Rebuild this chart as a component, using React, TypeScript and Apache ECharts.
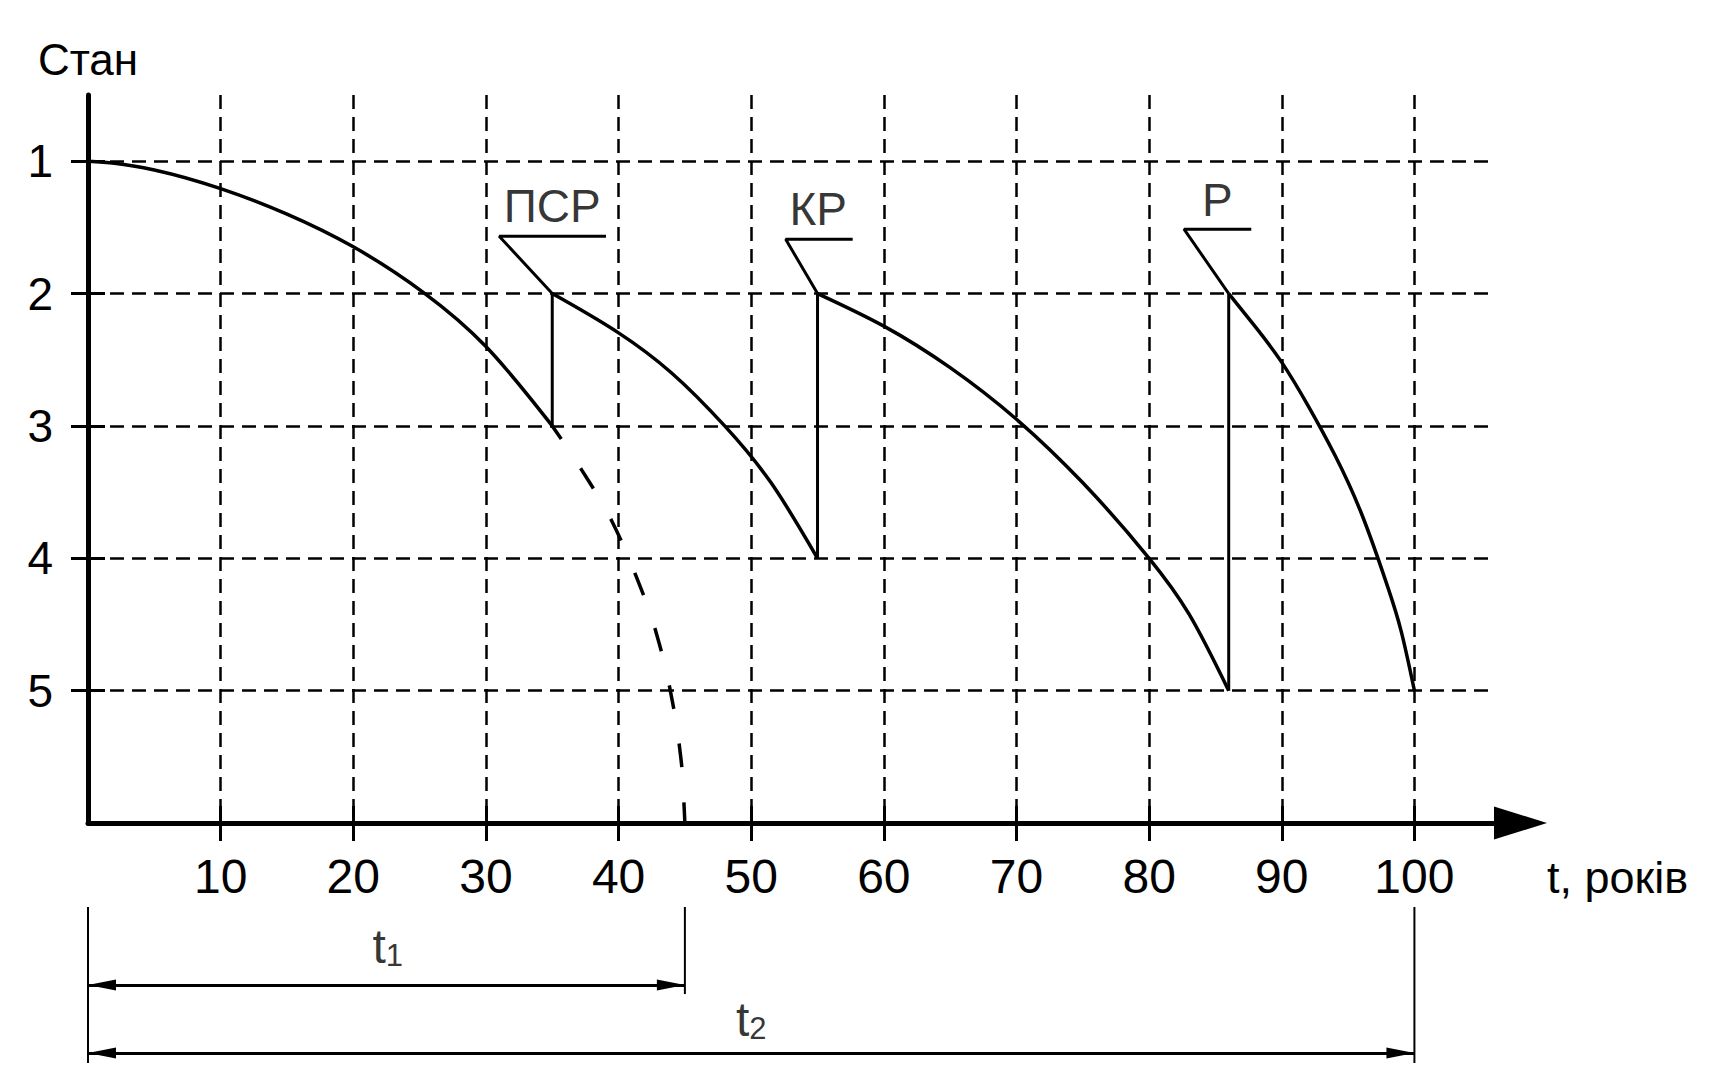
import React, { useEffect, useRef } from 'react';
import * as echarts from 'echarts';

// ---- data ----
const xTicks = [10, 20, 30, 40, 50, 60, 70, 80, 90, 100];
const yTicks = [1, 2, 3, 4, 5];

const curve1 = [[0, 1], [2, 1.015], [5, 1.066], [10, 1.207], [15, 1.4], [20, 1.647], [25.4, 2.0], [30, 2.4], [35, 3.0]];
const curve1Forecast = [[35, 3], [37.2, 3.33], [39.5, 3.72], [41.3, 4.13], [42.8, 4.55], [43.9, 5.0], [44.6, 5.43], [44.8, 5.62], [45, 6]];
const curve2 = [[35, 2], [40, 2.297], [44, 2.6], [48, 3.0], [51.5, 3.43], [55, 4.0]];
const curve3 = [[55, 2], [60, 2.246], [65, 2.56], [70, 2.95], [75, 3.43], [80, 4.0], [83, 4.42], [86, 5.0]];
const curve4 = [[86, 2], [88, 2.25], [90, 2.52], [92, 2.85], [94, 3.22], [96, 3.66], [98, 4.22], [99, 4.55], [100, 5]];

const repairJumps = [
  [[35, 3], [35, 2]],
  [[55, 4], [55, 2]],
  [[86, 5], [86, 2]],
];
const repairNames = ['ПСР', 'КР', 'Р'];
const leaderLines = [
  [[35, 2], [31, 1.567], [39.05, 1.567]],
  [[55, 2], [52.6, 1.59], [57.65, 1.59]],
  [[86, 2], [82.63, 1.514], [87.7, 1.514]],
];
const repairLabelPos = [[35, 1.34], [55.05, 1.36], [85.15, 1.29]];

// dimension lines (lower panel, y in 0..1)
const dimExtLines = [
  [[0, 0], [0, 1]],
  [[45, 0], [45, 0.558]],
  [[100, 0], [100, 1]],
];
const dimArrows = [
  [[0, 0.5], [45, 0.5]],
  [[0, 0.936], [100, 0.936]],
];
const dimSubscripts = ['1', '2'];
const dimLabelPos = [[22.6, 0.256], [50, 0.724]];

const narrow = '"Liberation Sans Narrow", "Arial Narrow", "Liberation Sans", Arial, sans-serif';
const regular = '"Liberation Sans", Arial, sans-serif';
const black = '#000';

function hermitePath(pts: number[][], t: number[]): string {
  let d = `M${pts[0][0]},${pts[0][1]}`;
  for (let i = 0; i < pts.length - 1; i++) {
    const dx = (pts[i + 1][0] - pts[i][0]) / 3;
    d += ` C${pts[i][0] + dx},${pts[i][1] + dx * t[i]} ${pts[i + 1][0] - dx},${pts[i + 1][1] - dx * t[i + 1]} ${pts[i + 1][0]},${pts[i + 1][1]}`;
  }
  return d;
}

// monotone cubic (in x) tangents
function monotoneTangents(pts: number[][]): number[] {
  const n = pts.length;
  const sgn = (v: number) => (v < 0 ? -1 : v > 0 ? 1 : 0);
  const h: number[] = [], s: number[] = [];
  for (let i = 0; i < n - 1; i++) {
    h.push(pts[i + 1][0] - pts[i][0]);
    s.push((pts[i + 1][1] - pts[i][1]) / h[i]);
  }
  const t: number[] = new Array(n).fill(0);
  for (let i = 1; i < n - 1; i++) {
    const s0 = s[i - 1], s1 = s[i];
    const p = (s0 * h[i] + s1 * h[i - 1]) / (h[i - 1] + h[i]);
    t[i] = (sgn(s0) + sgn(s1)) * Math.min(Math.abs(s0), Math.abs(s1), 0.5 * Math.abs(p)) || 0;
  }
  t[0] = n > 2 ? (3 * s[0] - t[1]) / 2 : s[0];
  t[n - 1] = n > 2 ? (3 * s[n - 2] - t[n - 2]) / 2 : s[n - 2];
  return t;
}

// natural cubic spline (in x) tangents
function splineTangents(pts: number[][]): number[] {
  const n = pts.length;
  const h: number[] = [], s: number[] = [];
  for (let i = 0; i < n - 1; i++) {
    h.push(pts[i + 1][0] - pts[i][0]);
    s.push((pts[i + 1][1] - pts[i][1]) / h[i]);
  }
  const M: number[] = new Array(n).fill(0);
  if (n > 2) {
    const m = n - 2;
    const a: number[] = [], b: number[] = [], c: number[] = [], r: number[] = [];
    for (let k = 0; k < m; k++) {
      const i = k + 1;
      a.push(h[i - 1]); b.push(2 * (h[i - 1] + h[i])); c.push(h[i]); r.push(6 * (s[i] - s[i - 1]));
    }
    for (let k = 1; k < m; k++) {
      const w = a[k] / b[k - 1];
      b[k] -= w * c[k - 1];
      r[k] -= w * r[k - 1];
    }
    const x: number[] = new Array(m).fill(0);
    x[m - 1] = r[m - 1] / b[m - 1];
    for (let k = m - 2; k >= 0; k--) x[k] = (r[k] - c[k] * x[k + 1]) / b[k];
    for (let k = 0; k < m; k++) M[k + 1] = x[k];
  }
  const t: number[] = [];
  for (let i = 0; i < n - 1; i++) t.push(s[i] - (h[i] * (2 * M[i] + M[i + 1])) / 6);
  t.push(s[n - 2] + (h[n - 2] * (M[n - 2] + 2 * M[n - 1])) / 6);
  return t;
}

function curveSeries(data: number[][], style: any, mode: 'spline' | 'monotone') {
  return {
    type: 'custom', xAxisIndex: 0, yAxisIndex: 0, data, silent: true, z: 5,
    encode: { x: 0, y: 1 },
    renderItem: (params: any, api: any) => {
      if (params.dataIndex !== 0) return null;
      const pts = data.map((p) => api.coord(p));
      const t = mode === 'spline' ? splineTangents(pts) : monotoneTangents(pts);
      return {
        type: 'path',
        shape: { pathData: hermitePath(pts, t) },
        style: { fill: 'none', stroke: black, lineWidth: 3.5, ...style },
      };
    },
  };
}

export default function App() {
  const ref = useRef<HTMLDivElement>(null);
  useEffect(() => {
    if (!ref.current) return;
    const chart = echarts.init(ref.current, null, { renderer: 'svg' });

    const solidCurves = [curve1, curve2, curve3, curve4].map((d) => curveSeries(d, {}, 'spline'));
    const forecast = curveSeries(curve1Forecast, { lineDash: [24, 35], lineDashOffset: 8 }, 'monotone');
    const jumpSeries = repairJumps.map((d) => ({
      type: 'line', xAxisIndex: 0, yAxisIndex: 0, data: d, symbol: 'none', silent: true,
      lineStyle: { color: black, width: 3 }, z: 5,
    }));
    const leaderSeries = leaderLines.map((d) => ({
      type: 'line', xAxisIndex: 0, yAxisIndex: 0, data: d, symbol: 'none', silent: true,
      lineStyle: { color: black, width: 3 }, z: 5,
    }));
    const labelSeries = {
      type: 'scatter', xAxisIndex: 0, yAxisIndex: 0, symbolSize: 0, silent: true,
      data: repairLabelPos.map((p, i) => [p[0], p[1], repairNames[i]]),
      label: {
        show: true, position: 'inside', color: black, fontSize: 46, lineHeight: 46, fontFamily: regular,
        formatter: (p: any) => p.value[2],
      },
    };
    const dimExtSeries = dimExtLines.map((d, i) => ({
      type: 'line', xAxisIndex: 2, yAxisIndex: 2, data: d, symbol: 'none', silent: true,
      lineStyle: { color: black, width: 2 },
      markLine: i === 0 ? {
        silent: true, animation: false,
        symbol: ['triangle', 'triangle'], symbolSize: [11, 28], symbolOffset: [[0, 14], [0, 14]],
        label: { show: false }, emphasis: { disabled: true },
        lineStyle: { color: black, width: 3, type: 'solid' },
        data: dimArrows.map((a) => [{ coord: a[0] }, { coord: a[1] }]),
      } : undefined,
    }));
    const dimLabelSeries = {
      type: 'scatter', xAxisIndex: 2, yAxisIndex: 2, symbolSize: 0, silent: true,
      data: dimLabelPos.map((p, i) => [p[0], p[1], dimSubscripts[i]]),
      label: {
        show: true, position: 'inside', color: black,
        formatter: (p: any) => `{t|t}{s|${p.value[2]}}`,
        rich: {
          t: { fontSize: 48, lineHeight: 48, fontFamily: narrow, color: black },
          s: { fontSize: 31, lineHeight: 16, fontFamily: narrow, color: black, verticalAlign: 'bottom' },
        },
      },
    };

    const option: any = {
      animation: false,
      backgroundColor: '#fff',
      textStyle: { fontFamily: regular, color: black },
      grid: [
        { left: 88, right: 225, top: 95, bottom: 265, containLabel: false, outerBoundsMode: 'none' },
        { left: 88, right: 225, top: 907, bottom: 25, containLabel: false, outerBoundsMode: 'none' },
      ],
      xAxis: [
        {
          type: 'value', gridIndex: 0, position: 'bottom', min: 0, max: 106,
          axisLine: {
            show: true, onZero: false, symbol: ['none', 'triangle'], symbolSize: [33, 53], symbolOffset: [0, 26.5],
            lineStyle: { color: black, width: 5 },
          },
          axisTick: { show: true, customValues: xTicks, length: 18, inside: false, lineStyle: { color: black, width: 3 } },
          axisLabel: { show: true, customValues: xTicks, margin: 29, color: black, fontSize: 48, lineHeight: 48, fontFamily: narrow },
          splitLine: { show: true, lineStyle: { color: black, width: 2.5, type: [14, 8] } },
          name: 't, років', nameLocation: 'end', nameGap: 53,
          nameTextStyle: { color: black, fontSize: 45, lineHeight: 45, fontFamily: regular, align: 'left', verticalAlign: 'top', padding: [32, 0, 0, 0] },
        },
        {
          type: 'value', gridIndex: 0, position: 'bottom', min: 0, max: 106,
          axisLine: { show: false, onZero: false },
          axisTick: { show: true, customValues: xTicks, length: 17, inside: true, lineStyle: { color: black, width: 3 } },
          axisLabel: { show: false },
          splitLine: { show: false },
        },
        { type: 'value', gridIndex: 1, min: 0, max: 106, show: false, splitLine: { show: false } },
      ],
      yAxis: [
        {
          type: 'value', gridIndex: 0, position: 'left', inverse: true, min: 0.5, max: 6,
          axisLine: { show: true, onZero: false, lineStyle: { color: black, width: 5 } },
          axisTick: { show: true, customValues: yTicks, length: 17, inside: false, lineStyle: { color: black, width: 3 } },
          axisLabel: { show: true, customValues: yTicks, margin: 35, color: black, fontSize: 46, lineHeight: 46, fontFamily: regular },
          splitLine: { show: true, lineStyle: { color: black, width: 2.5, type: [14, 8] } },
          name: 'Стан', nameLocation: 'start', nameGap: 36,
          nameTextStyle: { color: black, fontSize: 44, lineHeight: 44, fontFamily: regular, align: 'center', verticalAlign: 'middle' },
        },
        {
          type: 'value', gridIndex: 0, position: 'left', inverse: true, min: 0.5, max: 6,
          axisLine: { show: false, onZero: false },
          axisTick: { show: true, customValues: yTicks, length: 17, inside: true, lineStyle: { color: black, width: 3 } },
          axisLabel: { show: false },
          splitLine: { show: false },
        },
        { type: 'value', gridIndex: 1, inverse: true, min: 0, max: 1, show: false, splitLine: { show: false } },
      ],
      series: [
        ...solidCurves,
        forecast,
        ...jumpSeries,
        ...leaderSeries,
        labelSeries,
        ...dimExtSeries,
        dimLabelSeries,
      ],
    };
    chart.setOption(option);
    return () => chart.dispose();
  }, []);
  return <div ref={ref} style={{ position: 'absolute', left: 0, top: 0, width: 1719, height: 1088, background: '#fff' }} />;
}
